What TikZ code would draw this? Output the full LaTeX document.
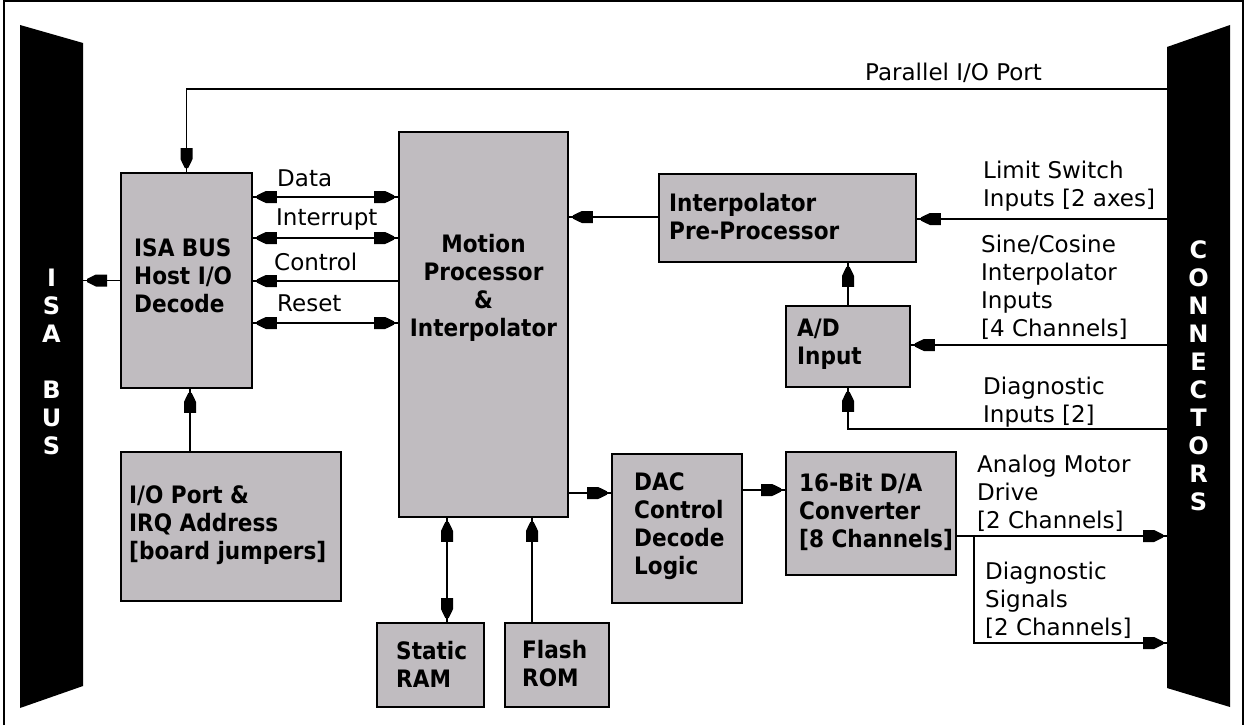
\documentclass[tikz,border=0pt]{standalone}
\usepackage{fontspec}
\setmainfont{DejaVu Sans}
\newfontfamily\condfont{DejaVu Sans Condensed}
\usetikzlibrary{arrows.meta}
\definecolor{boxgray}{RGB}{192,188,192}
\pgfdeclarearrow{
  name = Blk,
  setup code = {
    \pgfarrowssettipend{0pt}
    \pgfarrowssetlineend{-10pt}
    \pgfarrowssetbackend{-20pt}
    \pgfarrowshullpoint{0pt}{0pt}
    \pgfarrowsupperhullpoint{-20pt}{6pt}
  },
  drawing code = {
    \pgfpathmoveto{\pgfqpoint{0pt}{1.6pt}}
    \pgfpathlineto{\pgfqpoint{-9pt}{6pt}}
    \pgfpathlineto{\pgfqpoint{-20pt}{6pt}}
    \pgfpathlineto{\pgfqpoint{-20pt}{-6pt}}
    \pgfpathlineto{\pgfqpoint{-9pt}{-6pt}}
    \pgfpathlineto{\pgfqpoint{0pt}{-1.6pt}}
    \pgfpathclose
    \pgfusepathqfill
  }
}
\begin{document}
\begin{tikzpicture}[x=1pt,y=-1pt,
  box/.style={draw, line width=1.6pt, fill=boxgray, inner sep=0pt},
  btxt/.style={font=\condfont\fontsize{24}{28}\selectfont\bfseries, align=left, inner sep=0pt, anchor=west},
  lbl/.style={font=\fontsize{23}{28}\selectfont, align=left, inner sep=0pt, anchor=west},
  bartxt/.style={font=\fontsize{24}{24}\selectfont\bfseries, text=white, inner sep=0pt},
  wire/.style={line width=1.6pt},
  a/.style={wire, -{Blk}, shorten >=4pt, postaction={draw, -, shorten >=0pt}},
  aa/.style={wire, {Blk}-{Blk}, shorten >=4pt, shorten <=4pt, postaction={draw, -, shorten >=0pt, shorten <=0pt}}
]
\useasboundingbox (0,0) rectangle (1244,725);
% frame
\draw[line width=1.2pt] (4,725) -- (4,1) -- (1243,1) -- (1243,725);
% bars
\fill (20,25) -- (83,43) -- (83,686) -- (20,708) -- cycle;
\fill (1167,47) -- (1230,25) -- (1230,707) -- (1167,688) -- cycle;
\foreach \c/\y [count=\i] in {I/278,S/306,A/334,B/390,U/418,S/446}
  \node[bartxt] (isal\i) at (51.5,\y) {\c};
\foreach \c [count=\i] in {C,O,N,N,E,C,T,O,R,S}
  \node[bartxt] (cl\i) at (1198.5,{222+28*\i}) {\c};
\coordinate (isabus) at (83,280.5);
\coordinate (cpp) at (1167,89);
\coordinate (clim) at (1167,219);
\coordinate (csin) at (1167,345);
\coordinate (cdia) at (1167,429);
\coordinate (cana) at (1167,536);
\coordinate (csig) at (1167,643);
\coordinate (br) at (974,536);
% boxes
\node[box, minimum width=131pt, minimum height=215pt] (isa) at (186.5,280.5) {};
\node[box, minimum width=169pt, minimum height=385pt] (mp) at (483.5,324.5) {};
\node[box, minimum width=257pt, minimum height=88pt] (ipp) at (787.5,218) {};
\node[box, minimum width=124pt, minimum height=81pt] (ad) at (848,346.5) {};
\node[box, minimum width=130pt, minimum height=149pt] (dac) at (677,528.5) {};
\node[box, minimum width=170pt, minimum height=123pt] (da) at (871,513.5) {};
\node[box, minimum width=220pt, minimum height=149pt] (io) at (231,526.5) {};
\node[box, minimum width=107pt, minimum height=84pt] (ram) at (430.5,665) {};
\node[box, minimum width=104pt, minimum height=84pt] (rom) at (557,665) {};
% box texts
\node[btxt] (isaT) at (134,276) {ISA BUS\\Host I/O\\Decode};
\node[btxt, align=center, anchor=center] (mpT) at (483.5,288) {Motion\\Processor\\\&\\Interpolator};
\node[btxt] (ippT) at (669,217) {Interpolator\\Pre-Processor};
\node[btxt] (adT) at (797,344) {A/D\\Input};
\node[btxt] (dacT) at (634,526) {DAC\\Control\\Decode\\Logic};
\node[btxt] (daT) at (799,512) {16-Bit D/A\\Converter\\{[8 Channels]}};
\node[btxt] (ioT) at (129,525) {I/O Port \&\\IRQ Address\\{[board jumpers]}};
\node[btxt] (ramT) at (396,664) {Static\\RAM};
\node[btxt] (romT) at (522,664) {Flash\\ROM};
% labels
\node[lbl] (ppL) at (865,73) {Parallel I/O Port};
\node[lbl] (dataL) at (277,178) {Data};
\node[lbl] (intL) at (276,220) {Interrupt};
\node[lbl] (ctlL) at (274,262) {Control};
\node[lbl] (rstL) at (277,303) {Reset};
\node[lbl] (limL) at (983,186) {Limit Switch\\Inputs {[2 axes]}};
\node[lbl] (sinL) at (981,287) {Sine/Cosine\\Interpolator\\Inputs\\{[4 Channels]}};
\node[lbl] (diaL) at (983,402) {Diagnostic\\Inputs {[2]}};
\node[lbl] (anaL) at (977,493) {Analog Motor\\Drive\\{[2 Channels]}};
\node[lbl] (sigL) at (985,600) {Diagnostic\\Signals\\{[2 Channels]}};
% connectors
\draw[a] (isa.west) -- (isabus);
\draw[a] (cpp) -| (isa.north);
\draw[aa] (isa.east |- 0,197) -- (mp.west |- 0,197);
\draw[aa] (isa.east |- 0,238) -- (mp.west |- 0,238);
\draw[a] (mp.west |- 0,281) -- (isa.east |- 0,281);
\draw[aa] (isa.east |- 0,323) -- (mp.west |- 0,323);
\draw[a] (ipp.west |- 0,217) -- (mp.east |- 0,217);
\draw[a] (clim) -- (ipp.east |- clim);
\draw[a] (ad.north) -- (ad.north |- ipp.south);
\draw[a] (csin) -- (ad.east |- csin);
\draw[a] (cdia) -| (ad.south);
\draw[a] (mp.east |- 0,493) -- (dac.west |- 0,493);
\draw[a] (dac.east |- 0,490) -- (da.west |- 0,490);
\draw[a] (da.east |- cana) -- (cana);
\draw[a] (br) |- (csig);
\draw[aa] (ram.north -| 447,0) -- (mp.south -| 447,0);
\draw[a] (rom.north -| 532,0) -- (mp.south -| 532,0);
\draw[a] (io.north -| 190,0) -- (isa.south -| 190,0);
\end{tikzpicture}
\end{document}
